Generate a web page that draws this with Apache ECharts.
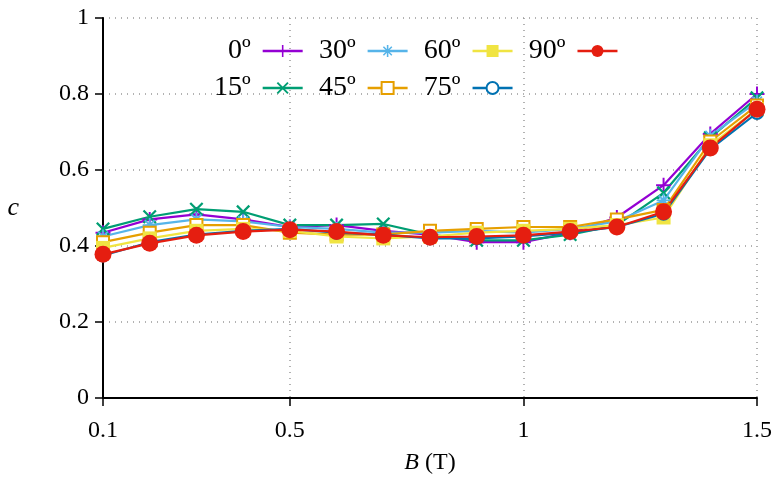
<!DOCTYPE html>
<html>
<head>
<meta charset="utf-8">
<title>c vs B</title>
<script src="https://cdn.jsdelivr.net/npm/echarts@6/dist/echarts.min.js"></script>
<style>
  html, body { margin: 0; padding: 0; background: #fff; }
  #chart { width: 773px; height: 477px; }
</style>
</head>
<body>
<div id="chart"></div>
<script>
// field values (T)
const fields = [0.1, 0.2, 0.3, 0.4, 0.5, 0.6, 0.7, 0.8, 0.9, 1.0, 1.1, 1.2, 1.3, 1.4, 1.5];
const xTicks = [0.1, 0.5, 1, 1.5];

const c0 = [0.435, 0.470, 0.483, 0.470, 0.450, 0.455, 0.440, 0.430, 0.410, 0.410, 0.435, 0.475, 0.560, 0.695, 0.800];
const c15 = [0.445, 0.477, 0.497, 0.490, 0.455, 0.455, 0.458, 0.430, 0.415, 0.415, 0.430, 0.455, 0.540, 0.685, 0.790];
const c30 = [0.425, 0.455, 0.470, 0.465, 0.450, 0.445, 0.435, 0.435, 0.440, 0.435, 0.445, 0.465, 0.520, 0.690, 0.780];
const c45 = [0.410, 0.435, 0.455, 0.455, 0.435, 0.430, 0.430, 0.440, 0.445, 0.450, 0.450, 0.470, 0.495, 0.675, 0.770];
const c60 = [0.395, 0.420, 0.440, 0.445, 0.440, 0.425, 0.420, 0.425, 0.435, 0.440, 0.445, 0.455, 0.475, 0.665, 0.760];
const c75 = [0.375, 0.410, 0.430, 0.440, 0.445, 0.435, 0.430, 0.420, 0.420, 0.425, 0.435, 0.450, 0.485, 0.655, 0.750];
const c90 = [0.378, 0.407, 0.428, 0.438, 0.443, 0.438, 0.428, 0.423, 0.425, 0.428, 0.438, 0.450, 0.490, 0.658, 0.760];

const FONT = "Liberation Serif";

// gnuplot-like point shapes
const PLUS = "path://M-10,-1.3L10,-1.3L10,1.3L-10,1.3ZM-1.3,-10L1.3,-10L1.3,10L-1.3,10Z";
const CROSS = "path://M-6.1,-7.9L7.9,6.1L6.1,7.9L-7.9,-6.1ZM6.1,-7.9L7.9,-6.1L-6.1,7.9L-7.9,6.1Z";
const STAR = "path://M-10,-1.3L10,-1.3L10,1.3L-10,1.3ZM-1.3,-10L1.3,-10L1.3,10L-1.3,10Z" +
  "M-6.1,-7.9L7.9,6.1L6.1,7.9L-7.9,-6.1ZM6.1,-7.9L7.9,-6.1L-6.1,7.9L-7.9,6.1Z";

function pairs(ys) {
  return fields.map((x, i) => [x, ys[i]]);
}

function line(name, ys, color, symbol, size, empty) {
  return {
    name: name,
    type: "line",
    data: pairs(ys),
    symbol: symbol,
    symbolSize: size,
    showAllSymbol: true,
    lineStyle: { color: color, width: 2.2 },
    itemStyle: empty
      ? { color: color, borderColor: color, borderWidth: 2 }
      : { color: color, borderWidth: 0 },
    emphasis: { disabled: true },
    animation: false
  };
}

const legendBase = {
  orient: "horizontal",
  align: "right",
  padding: 0,
  itemWidth: 40,
  itemHeight: 15,
  itemGap: 15,
  formatter: "{name} ",
  lineStyle: { width: 2.5 },
  textStyle: { fontFamily: FONT, fontSize: 28, color: "#000" },
  selectedMode: false
};

const option = {
  backgroundColor: "#fff",
  animation: false,
  textStyle: { fontFamily: FONT, color: "#000" },
  grid: { left: 103, right: 16, top: 18, bottom: 79, containLabel: false, outerBoundsMode: "none" },
  legend: [
    Object.assign({}, legendBase, { left: 228, top: 37, data: ["0º", "30º", "60º", "90º"] }),
    Object.assign({}, legendBase, { left: 214, top: 74, data: ["15º", "45º", "75º"] })
  ],
  xAxis: {
    type: "value",
    min: 0.1,
    max: 1.5,
    name: "{i|B} (T)",
    nameLocation: "middle",
    nameGap: 53,
    nameTextStyle: {
      fontFamily: FONT, fontSize: 24, color: "#000",
      rich: { i: { fontFamily: FONT, fontSize: 24, fontStyle: "italic", color: "#000" } }
    },
    axisLine: { lineStyle: { color: "#000", width: 2 } },
    axisTick: { show: true, length: 8, lineStyle: { color: "#000", width: 1.5 }, customValues: xTicks },
    axisLabel: { customValues: xTicks, fontFamily: FONT, fontSize: 24, color: "#000", margin: 21 },
    splitLine: { show: true, lineStyle: { color: "#999", type: [1, 5], width: 1.5 } }
  },
  yAxis: {
    type: "value",
    min: 0,
    max: 1,
    interval: 0.2,
    name: "c",
    nameLocation: "middle",
    nameRotate: 0,
    nameGap: 84,
    nameTextStyle: { fontFamily: FONT, fontSize: 26, fontStyle: "italic", color: "#000" },
    axisLine: { show: true, lineStyle: { color: "#000", width: 2 } },
    axisTick: { show: true, length: 8, lineStyle: { color: "#000", width: 1.5 } },
    axisLabel: { fontFamily: FONT, fontSize: 24, color: "#000", margin: 14 },
    splitLine: { show: true, lineStyle: { color: "#999", type: [1, 5], width: 1.5 } }
  },
  series: [
    line("0º", c0, "#9400D3", PLUS, 15, false),
    line("15º", c15, "#009E73", CROSS, 14, false),
    line("30º", c30, "#56B4E9", STAR, 14, false),
    line("45º", c45, "#E69F00", "emptyRect", 12, true),
    line("60º", c60, "#F0E442", "rect", 14, false),
    line("75º", c75, "#0072B2", "emptyCircle", 12, true),
    line("90º", c90, "#E51E10", "circle", 17, false)
  ]
};

const chart = echarts.init(document.getElementById("chart"), null, { renderer: "canvas" });
chart.setOption(option);
</script>
</body>
</html>
